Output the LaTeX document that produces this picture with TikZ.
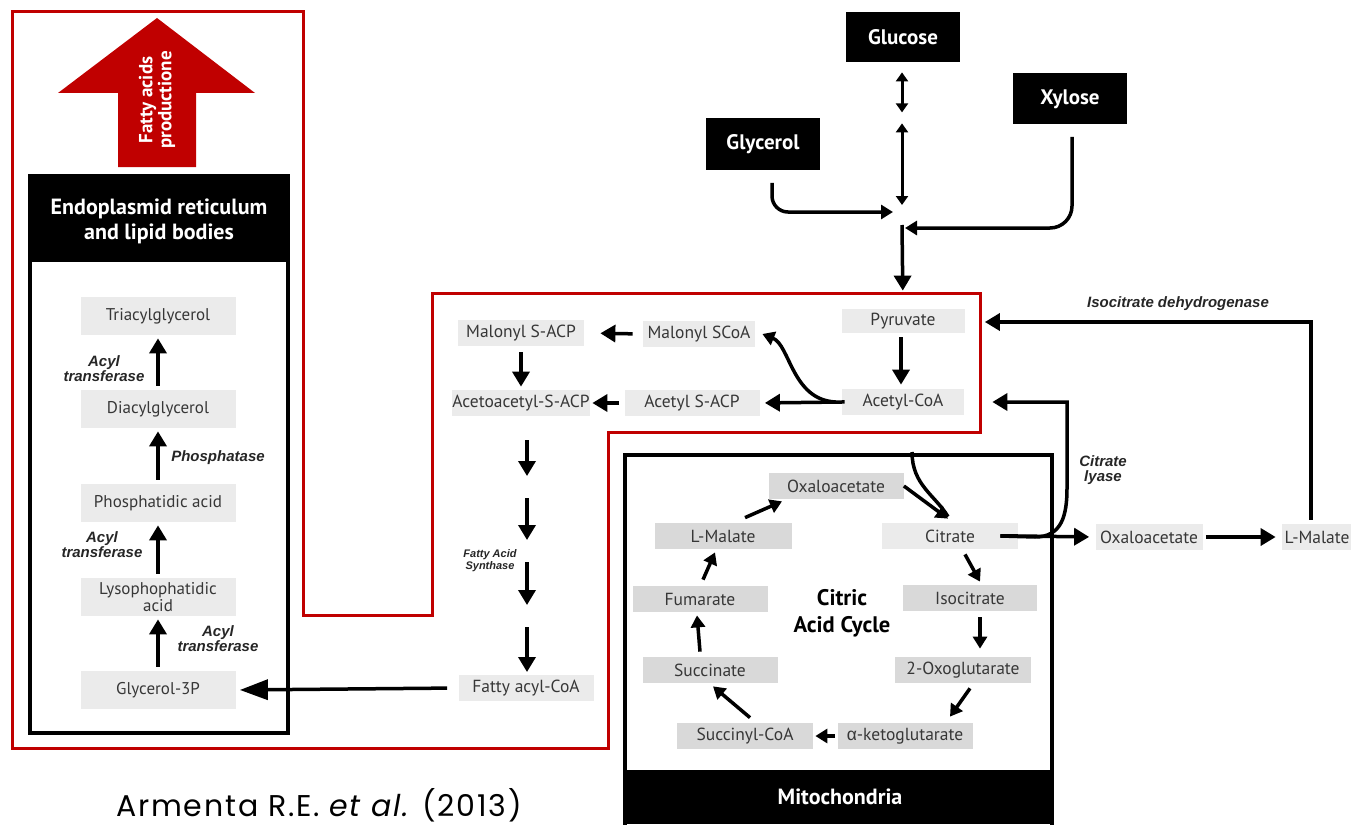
\documentclass[tikz,border=0pt]{standalone}
\usepackage{fontspec}
\setmainfont{PT Sans}
\newfontfamily\enzfont{Liberation Sans}
\newfontfamily\capfont[LetterSpace=6]{Poppins}
\usetikzlibrary{arrows.meta,calc}

\definecolor{redline}{RGB}{192,0,0}
\definecolor{lightbox}{RGB}{235,235,235}
\definecolor{tcabox}{RGB}{217,217,217}
\definecolor{txtgray}{RGB}{55,55,55}

\tikzset{every picture/.style={line width=0.75pt}}
\tikzset{
  ermetab/.style={fill=lightbox, text=txtgray, inner sep=0pt, minimum width=155pt, minimum height=38pt, align=center, font=\fontsize{17}{15}\selectfont},
  metab/.style={fill=lightbox, text=txtgray, inner sep=0pt, minimum height=26pt, font=\fontsize{17.5}{19}\selectfont},
  tcametab/.style={metab, fill=tcabox},
  blackbox/.style={fill=black, text=white, inner sep=0pt, minimum width=114pt, minimum height=51pt, font=\fontsize{21}{23}\selectfont\bfseries},
  enz/.style={text=black!85, inner sep=0pt, align=center, font=\enzfont\fontsize{15}{15}\selectfont\bfseries\itshape},
  arr/.style={line width=3.5pt, -{Triangle[length=15pt,width=17pt]}},
  tcaarr/.style={line width=3.5pt, -{Triangle[length=12pt,width=14pt]}},
  bigarr/.style={line width=3.5pt, -{Triangle[length=28pt,width=20pt]}},
  darr/.style={line width=3pt, {Triangle[length=9pt,width=12pt]}-{Triangle[length=9pt,width=12pt]}},
}

\begin{document}
\begin{tikzpicture}[x=1pt,y=1pt,yscale=-1]
\useasboundingbox (0,0) rectangle (1351,824);

%Shape: Red outline
\draw [redline, line width=3pt] (12,12) -- (303,12) -- (303,615) -- (432,615) -- (432,293) -- (980,293) -- (980,432) -- (608,432) -- (608,748) -- (12,748) -- cycle ;

%Shape: Red arrow
\fill [redline] (157,18) -- (255,93) -- (196,93) -- (196,167) -- (118,167) -- (118,93) -- (58,93) -- cycle ;
% Text Node
\node [rotate=90, text=white, align=center, font=\fontsize{19}{19}\selectfont\bfseries] (fap) at (157,100) {Fatty acids\\productione};

%Shape: ER box
\draw [line width=4pt] (30,176) rectangle (288,733) ;
\fill (30,176) rectangle (288,262) ;
% Text Node
\node [text=white, align=center, font=\fontsize{22}{25}\selectfont\bfseries] (ertitle) at (159,221) {Endoplasmid reticulum\\and lipid bodies};

% ER metabolites
\node [ermetab] (tag) at (158,316) {Triacylglycerol};
\node [ermetab] (dag) at (158,409) {Diacylglycerol};
\node [ermetab] (pa) at (158,503) {Phosphatidic acid};
\node [ermetab] (lpa) at (158,597) {Lysophophatidic\\acid};
\node [ermetab] (g3p) at (158,690) {Glycerol-3P};

\draw [arr, shorten <=4pt, shorten >=3pt] (g3p) -- (lpa) ;
\draw [arr, shorten <=4pt, shorten >=3pt] (lpa) -- (pa) ;
\draw [arr, shorten <=4pt, shorten >=3pt] (pa) -- (dag) ;
\draw [arr, shorten <=4pt, shorten >=3pt] (dag) -- (tag) ;

% Text Node
\node [enz] (at3) at (104,369) {Acyl\\transferase};
\node [enz] (phos) at (218,458) {Phosphatase};
\node [enz] (at2) at (102,545) {Acyl\\transferase};
\node [enz] (at1) at (218,639) {Acyl\\transferase};

% Fatty acid synthesis
\node [metab, minimum width=126pt] (malacp) at (521,333) {Malonyl S-ACP};
\node [metab, minimum width=112pt] (malcoa) at (699,334) {Malonyl SCoA};
\node [metab, minimum width=123pt, minimum height=24pt] (pyr) at (903,321) {Pyruvate};
\node [metab, minimum width=138pt] (aacacp) at (521,403) {Acetoacetyl-S-ACP};
\node [metab, minimum width=135pt] (acacp) at (692,403) {Acetyl S-ACP};
\node [metab, minimum width=122pt] (accoa) at (903,402) {Acetyl-CoA};
\node [metab, minimum width=135pt] (facoa) at (526,688) {Fatty acyl-CoA};

\draw [arr, shorten <=10pt, shorten >=16pt] (malcoa.west) -- (malacp.east) ;
\draw [arr, shorten <=5pt, shorten >=2pt] (acacp.west) -- (aacacp.east) ;
\draw [arr, shorten <=-3pt, shorten >=5pt] (accoa.west) -- (acacp.east) ;
\draw [tcaarr] ($(accoa.west)+(-6,0)$) .. controls (792,400) and (790,345) .. ($(malcoa.east)+(7,0)$) ;
\draw [arr, shorten <=4pt, shorten >=4pt] ($(pyr.south)+(-2,0)$) -- ($(accoa.north)+(-2,0)$) ;
\draw [arr, shorten <=6pt, shorten >=3pt] (malacp.south) -- (aacacp.north) ;

% Fatty acid synthase steps
\foreach \i/\a/\b in {1/440/476, 2/498/540, 3/562/605, 4/627/672}
{
  \coordinate (fs\i) at (527,\a);
  \coordinate (fe\i) at (527,\b);
  \draw [arr] (fs\i) -- (fe\i) ;
}
% Text Node
\node [enz, font=\enzfont\fontsize{11}{12}\selectfont\bfseries\itshape] (fas) at (490,561) {Fatty Acid\\Synthase};

\draw [bigarr, shorten <=11pt, shorten >=4pt] (facoa.west) -- (g3p.east) ;

%Shape: Mitochondria
\draw [line width=4pt] (625,455) rectangle (1052,830) ;
\fill (625,770) rectangle (1052,824) ;
% Text Node
\node [text=white, font=\fontsize{22}{24}\selectfont\bfseries] (mito) at (840,797) {Mitochondria};

% Citric acid cycle
\node [tcametab, minimum width=135pt] (oaa) at (836,486) {Oxaloacetate};
\node [metab, minimum width=136pt] (cit) at (950,536) {Citrate};
\node [tcametab, minimum width=134pt] (icit) at (970,598) {Isocitrate};
\node [tcametab, minimum width=136pt] (oxg) at (963,670) {2-Oxoglutarate};
\node [tcametab, minimum width=135pt] (akg) at (905,736) {{\enzfont α}-ketoglutarate};
\node [tcametab, minimum width=136pt] (sucoa) at (745,736) {Succinyl-CoA};
\node [tcametab, minimum width=135pt] (succ) at (710,670) {Succinate};
\node [tcametab, minimum width=135pt] (fum) at (700,599) {Fumarate};
\node [tcametab, minimum width=137pt] (mal) at (723,536) {L-Malate};
% Text Node
\node [align=center, font=\fontsize{22.5}{27}\selectfont\bfseries] (tca) at (842,613) {Citric\\Acid Cycle};

\draw [tcaarr] ($(mal.north)+(22,-5)$) -- ($(oaa.south)+(-54,2)$) ;
\draw [tcaarr] (oaa.east) -- ($(cit.north)+(-2,-4)$) ;
\draw [line width=3.5pt] (912,452) .. controls (912,485) and (935,495) .. ($(cit.north)+(-2,-6)$) ;
\draw [tcaarr] ($(cit.south)+(15,5)$) -- ($(icit.north)+(10,-3)$) ;
\draw [tcaarr] ($(icit.south)+(10,6)$) -- ($(oxg.north)+(17,-8)$) ;
\draw [tcaarr] ($(oxg.south)+(7,5)$) -- ($(akg.north)+(45,-6)$) ;
\draw [tcaarr, shorten <=2pt, shorten >=2pt] (akg.west) -- (sucoa.east) ;
\draw [tcaarr] ($(sucoa.north)+(5,-5)$) -- ($(succ.south)+(3,3)$) ;
\draw [tcaarr] ($(succ.north)+(-10,-5)$) -- ($(fum.south)+(-3,3)$) ;
\draw [tcaarr] ($(fum.north)+(3,-6)$) -- ($(mal.south)+(-8,3)$) ;

% Cytosol shuttle
\node [metab, minimum width=107pt] (oaa2) at (1149,537) {Oxaloacetate};
\node [metab, minimum width=70pt] (mal2) at (1317,537) {L-Malate};

\draw [arr, shorten <=-18pt, shorten >=6pt] (cit.east) -- (oaa2.west) ;
\draw [arr, shorten <=3pt, shorten >=6pt] (oaa2.east) -- (mal2.west) ;

\coordinate (lyasetop) at (1067,402);
\draw [arr] ($(cit.east)+(-18,0)$) -- (1035,537) .. controls (1062,537) and (1067,515) .. (1067,488) -- (lyasetop) -- ($(accoa.east)+(28,0)$) ;
% Text Node
\node [enz] (lyase) at (1103,470) {Citrate\\lyase};

\draw [arr] ($(mal2.north)+(-6,-4)$) |- ($(pyr.east)+(20,1)$) ;
% Text Node
\node [enz] (icdh) at (1178,304) {Isocitrate dehydrogenase};

% Substrates
\node [blackbox, minimum height=50pt] (glucose) at (903,37) {Glucose};
\node [blackbox] (glycerol) at (763,144) {Glycerol};
\node [blackbox] (xylose) at (1070,99) {Xylose};
\coordinate (hub) at (902,218);

\draw [darr] ($(glucose.south)+(-1,10)$) -- ($(glucose.south)+(-1,50)$) ;
\draw [darr] ($(glucose.south)+(-1,61)$) -- ($(hub)+(0,-13)$) ;
\draw [tcaarr, rounded corners=16pt] ($(glycerol.south)+(9,13)$) |- ($(hub)+(-9,-6)$) ;
\draw [tcaarr, rounded corners=22pt] ($(xylose.south)+(2,12)$) |- ($(hub)+(3,10)$) ;
\draw [arr, shorten >=18pt] ($(hub)+(0,7)$) -- (pyr.north) ;

% Text Node
\node [font=\capfont\fontsize{30}{32}\selectfont] (cite) at (319,805) {Armenta R.E. {\itshape et al.} (2013)};

\end{tikzpicture}
\end{document}
